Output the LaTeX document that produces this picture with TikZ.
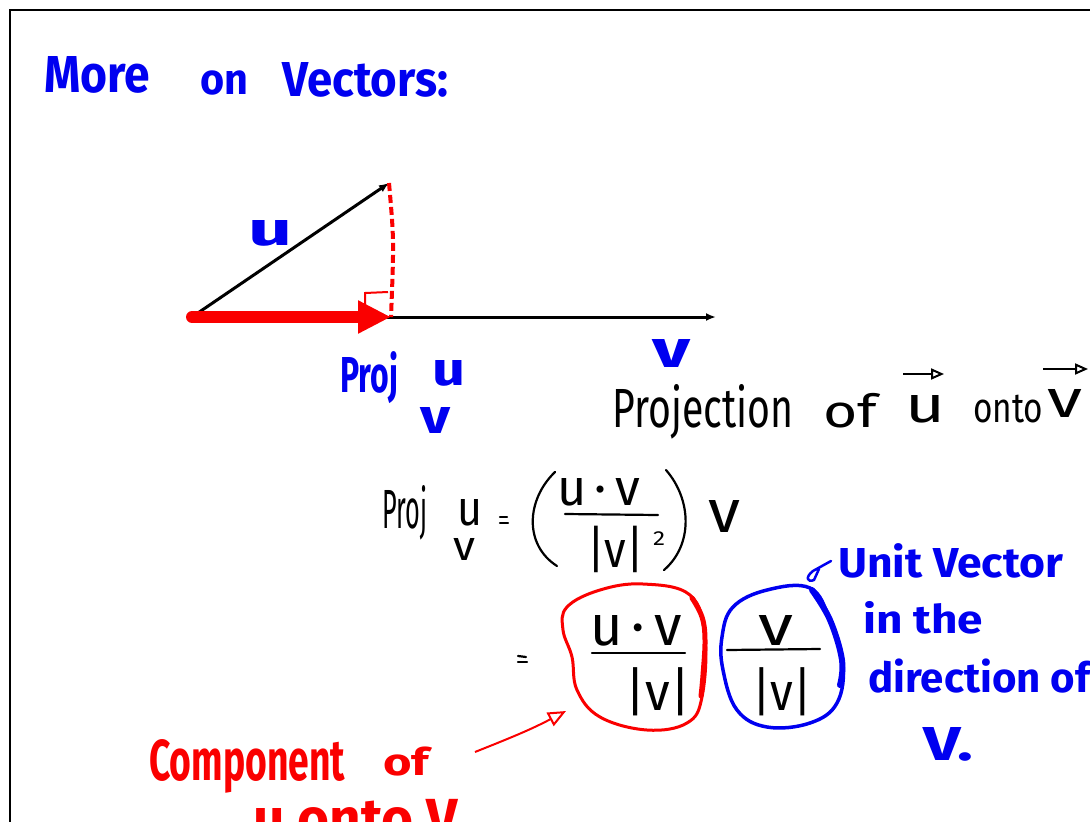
\documentclass[tikz,border=0pt]{standalone}
\usepackage{graphicx}
\usepackage{fontspec}
\setmainfont{Fira Sans}
\usetikzlibrary{arrows.meta}
\definecolor{pblue}{RGB}{0,0,240}
\definecolor{pred}{RGB}{250,0,0}
% width, cap height, text
\newcommand\fbc[3]{\resizebox{#1pt}{#2pt}{\raisebox{0pt}[\fontcharht\font`H][0pt]{#3}}}
% width, x-height, text
\newcommand\fbx[3]{\resizebox{#1pt}{#2pt}{\raisebox{0pt}[\fontcharht\font`x][0pt]{#3}}}
\begin{document}
\begin{tikzpicture}[x=1pt,y=-1pt,
  hwb/.style={text=pblue, font=\bfseries, inner sep=0pt, anchor=base west},
  hwk/.style={text=black, inner sep=0pt, anchor=base west},
  hwr/.style={text=pred, font=\bfseries, inner sep=0pt, anchor=base west},
  vec/.style={line width=3pt, -{Latex[length=10pt,width=8pt]}},
  projarrow/.style={pred, line width=12pt, line cap=round, -{Triangle[length=33pt,width=31pt]}},
  perp/.style={pred, line width=4pt, dash pattern=on 8pt off 4pt},
  ink/.style={black, line width=2.2pt, line cap=round},
  redblob/.style={pred, line width=3pt},
  blueblob/.style={pblue, line width=3.5pt},
  overarrow/.style={black, line width=2pt, -{Triangle[open,length=13pt,width=11pt]}}
]
\useasboundingbox (0,0) rectangle (1090,822);
\clip (0,0) rectangle (1090,822);
\fill[white] (0,0) rectangle (1090,822);
% frame
\draw[line width=2.5pt] (10,830) -- (10,10) -- (1095,10);

% title
\node[hwb] (t1) at (44,92) {\fbc{106}{36}{More}};
\node[hwb] (t2) at (200,94) {\fbx{48}{23}{on}};
\node[hwb] (t3) at (282,96) {\fbc{166}{34}{Vectors:}};

% vectors
\coordinate (O) at (192,317);
\coordinate (U) at (389,183);
\coordinate (V) at (716,317);
\coordinate (P) at (391,317);
\draw[vec] (O) -- (U);
\draw[vec] (O) -- (V);
\draw[projarrow] (O) -- (P);
\draw[perp] (U) .. controls (394,240) .. (P);
\draw[pred, line width=2pt] (365,307) -- (365,293) -- (388,292);

\node[hwb] (lu) at (248,245) {\fbx{44}{25}{u}};
\node[hwb] (lv) at (652,367) {\fbx{38}{28}{v}};
\node[hwb] (lproj) at (340,392) {\fbc{58}{35}{Proj}};
\node[hwb] (lpu) at (432,385) {\fbx{33}{25}{u}};
\node[hwb] (lpv) at (420,433) {\fbx{30}{26}{v}};

% Projection of u onto v
\node[hwk] (p1) at (612,427) {\fbc{181}{38}{Projection}};
\node[hwk] (p2) at (823,427) {\fbx{54}{24}{of}};
\node[hwk] (p3) at (905,422) {\fbx{40}{27}{u}};
\node[hwk] (p4) at (973,422) {\fbx{70}{22}{onto}};
\node[hwk] (p5) at (1047,417) {\fbx{35}{28}{v}};
\draw[overarrow] (903,374) -- (944,374);
\draw[overarrow] (1043,369) -- (1088,369);

% formula line 1
\node[hwk] (f1) at (382,528) {\fbc{45}{38}{Proj}};
\node[hwk] (f2) at (457,525) {\fbx{25}{26}{u}};
\node[hwk] (f3) at (453,560) {\fbx{22}{22}{v}};
\draw[ink] (500,517) -- (507,517);
\draw[ink] (500,523) -- (508,523);
\draw[ink] (555,472) .. controls (526,500) and (524,545) .. (557,566);
\draw[ink] (666,470) .. controls (692,500) and (693,545) .. (664,570);
\node[hwk] (f4) at (557,505) {\fbx{83}{27}{u\,·\,v}};
\draw[ink] (565,514) -- (658,515);
\node[hwk] (f5) at (587,567) {\fbx{57}{27}{|v|}};
\node[hwk] (f6) at (653,545) {\fbc{12}{14}{2}};
\node[hwk] (f7) at (708,532) {\fbx{32}{32}{v}};

% formula line 2
\draw[ink] (518,656) -- (526,657);
\draw[ink] (518,662) -- (527,662);
\draw[redblob] plot[smooth cycle, tension=0.65] coordinates {(567,607) (600,590) (643,584) (690,595) (705,637) (702,697) (687,723) (647,730) (600,717) (577,690) (572,657) (563,630)};
\draw[pred, line width=5pt, line cap=round] plot[smooth, tension=0.65] coordinates {(692,598) (702,617) (705,640) (703,675) (701,696)};
\node[hwk] (g1) at (590,645) {\fbx{92}{30}{u\,·\,v}};
\draw[ink] (592,653) -- (685,653);
\node[hwk] (g2) at (625,710) {\fbx{65}{28}{|v|}};

\draw[blueblob] plot[smooth cycle, tension=0.65] coordinates {(733,607) (767,590) (810,588) (830,620) (843,663) (837,703) (810,723) (767,727) (737,710) (723,670) (722,637)};
\draw[pblue, line width=6pt, line cap=round] plot[smooth, tension=0.65] coordinates {(812,590) (830,620) (842,660) (840,685)};
\node[hwk] (g3) at (758,645) {\fbx{35}{30}{v}};
\draw[ink] (727,650) -- (820,649);
\node[hwk] (g4) at (752,710) {\fbx{60}{28}{|v|}};

% unit vector note
\draw[pblue, line width=2.5pt, line join=round, line cap=round] (831,561) -- (813,571) .. controls (805,577) and (807,583) .. (814,580) -- (819,569);
\node[hwb] (n1) at (838,577) {\fbc{225}{29}{Unit Vector}};
\node[hwb] (n2) at (863,633) {\fbx{120}{21}{in the}};
\node[hwb] (n3) at (868,692) {\fbx{222}{22}{direction of}};
\node[hwb] (n4) at (923,760) {\fbc{50}{33}{V.}};

% component note
\node[hwr] (c1) at (149,780) {\fbc{196}{40}{Component}};
\node[hwr] (c2) at (383,775) {\fbx{46}{20}{of}};
\node[hwr] (c3) at (253,838) {\fbx{205}{30}{u onto V}};
\coordinate (ca) at (475,752);
\coordinate (cb) at (566,711);
\draw[pred, line width=2pt, -{Triangle[open,length=18pt,width=15pt]}] (ca) .. controls (510,738) and (530,730) .. (cb);
\end{tikzpicture}
\end{document}
